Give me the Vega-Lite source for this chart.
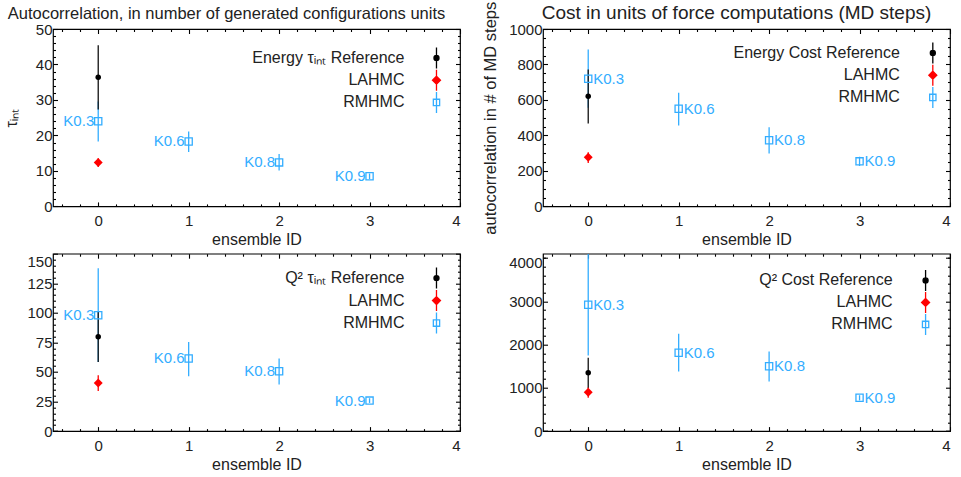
{
  "$schema": "https://vega.github.io/schema/vega-lite/v6.json",
  "padding": {"left": 2, "top": 0, "right": 0, "bottom": 0},
  "columns": 2,
  "spacing": {"row": 46.7, "column": 83},
  "bounds": "flush",
  "datasets": {
    "pts": [
      {"p": 1, "id": 0, "m": "RMHMC", "v": 24.0, "lo": 18.3, "hi": 29.6, "k": "K0.3"},
      {"p": 1, "id": 1, "m": "RMHMC", "v": 18.3, "lo": 15.3, "hi": 21.1, "k": "K0.6"},
      {"p": 1, "id": 2, "m": "RMHMC", "v": 12.4, "lo": 10.1, "hi": 14.8, "k": "K0.8"},
      {"p": 1, "id": 3, "m": "RMHMC", "v": 8.5, "lo": 7.7, "hi": 9.3, "k": "K0.9"},
      {"p": 1, "id": 0, "m": "LAHMC", "v": 12.4, "lo": 11.1, "hi": 13.6, "k": ""},
      {"p": 1, "id": 0, "m": "Reference", "v": 36.4, "lo": 27.3, "hi": 45.4, "k": ""},
      {"p": 2, "id": 0, "m": "RMHMC", "v": 720, "lo": 556, "hi": 885, "k": "K0.3"},
      {"p": 2, "id": 1, "m": "RMHMC", "v": 550, "lo": 456, "hi": 641, "k": "K0.6"},
      {"p": 2, "id": 2, "m": "RMHMC", "v": 373, "lo": 298, "hi": 446, "k": "K0.8"},
      {"p": 2, "id": 3, "m": "RMHMC", "v": 254, "lo": 228, "hi": 280, "k": "K0.9"},
      {"p": 2, "id": 0, "m": "LAHMC", "v": 277, "lo": 245, "hi": 305, "k": ""},
      {"p": 2, "id": 0, "m": "Reference", "v": 621, "lo": 467, "hi": 772, "k": ""},
      {"p": 3, "id": 0, "m": "RMHMC", "v": 98, "lo": 58.4, "hi": 137.6, "k": "K0.3"},
      {"p": 3, "id": 1, "m": "RMHMC", "v": 61.4, "lo": 46.4, "hi": 75.4, "k": "K0.6"},
      {"p": 3, "id": 2, "m": "RMHMC", "v": 50.6, "lo": 39.3, "hi": 61.4, "k": "K0.8"},
      {"p": 3, "id": 3, "m": "RMHMC", "v": 25.8, "lo": 23.8, "hi": 27.8, "k": "K0.9"},
      {"p": 3, "id": 0, "m": "LAHMC", "v": 40.7, "lo": 33.9, "hi": 47.2, "k": ""},
      {"p": 3, "id": 0, "m": "Reference", "v": 79.7, "lo": 58.5, "hi": 101, "k": ""},
      {"p": 4, "id": 0, "m": "RMHMC", "v": 2921, "lo": 1748, "hi": 4094, "k": "K0.3"},
      {"p": 4, "id": 1, "m": "RMHMC", "v": 1810, "lo": 1377, "hi": 2250, "k": "K0.6"},
      {"p": 4, "id": 2, "m": "RMHMC", "v": 1500, "lo": 1146, "hi": 1840, "k": "K0.8"},
      {"p": 4, "id": 3, "m": "RMHMC", "v": 769, "lo": 709, "hi": 829, "k": "K0.9"},
      {"p": 4, "id": 0, "m": "LAHMC", "v": 898, "lo": 769, "hi": 1014, "k": ""},
      {"p": 4, "id": 0, "m": "Reference", "v": 1347, "lo": 1000, "hi": 1694, "k": ""}
    ],
    "leg": [
      {"p": 1, "m": "Reference", "t": "Energy τᵢₙₜ Reference"},
      {"p": 1, "m": "LAHMC", "t": "LAHMC"},
      {"p": 1, "m": "RMHMC", "t": "RMHMC"},
      {"p": 2, "m": "Reference", "t": "Energy Cost Reference"},
      {"p": 2, "m": "LAHMC", "t": "LAHMC"},
      {"p": 2, "m": "RMHMC", "t": "RMHMC"},
      {"p": 3, "m": "Reference", "t": "Q² τᵢₙₜ Reference"},
      {"p": 3, "m": "LAHMC", "t": "LAHMC"},
      {"p": 3, "m": "RMHMC", "t": "RMHMC"},
      {"p": 4, "m": "Reference", "t": "Q² Cost Reference"},
      {"p": 4, "m": "LAHMC", "t": "LAHMC"},
      {"p": 4, "m": "RMHMC", "t": "RMHMC"}
    ]
  },
  "concat": [
    {
      "width": 407, "height": 177.4,
      "title": {"text": "Autocorrelation, in number of generated configurations units", "fontSize": 16.5, "fontWeight": "normal", "color": "#222", "anchor": "middle", "frame": "group", "dx": -30, "offset": -13, "baseline": "alphabetic"},
      "layer": [
        {
          "data": {"name": "pts"},
          "transform": [{"filter": "datum.p == 1"}],
          "layer": [
            {"mark": {"type": "rule", "strokeWidth": 1.3, "clip": true},
             "encoding": {
               "x": {"field": "id", "type": "quantitative", "scale": {"domain": [-0.5, 4], "nice": false, "zero": false}, "axis": {"orient": "bottom", "values": [0, 1, 2, 3, 4], "tickSize": -4.5, "labelPadding": 11.5, "title": "ensemble ID", "titlePadding": 3}},
               "y": {"field": "lo", "type": "quantitative", "scale": {"domain": [0, 50], "nice": false}, "axis": {"orient": "left", "values": [0, 10, 20, 30, 40, 50], "format": "d", "tickSize": -4.5, "labelPadding": 5.5, "title": "τᵢₙₜ", "titlePadding": 16}},
               "y2": {"field": "hi"},
               "color": {"field": "m", "type": "nominal", "scale": {"domain": ["Reference", "LAHMC", "RMHMC"], "range": ["#111111", "#ff0000", "#33adff"]}, "legend": null}
             }},
            {"transform": [{"filter": "datum.m == 'RMHMC'"}],
             "mark": {"type": "point", "shape": "square", "size": 52, "filled": false, "color": "#33adff", "strokeWidth": 1.3, "opacity": 1},
             "encoding": {
               "x": {"field": "id", "type": "quantitative", "scale": {"domain": [-0.5, 4], "nice": false, "zero": false}, "axis": {"orient": "top", "values": [0, 1, 2, 3, 4], "tickSize": -4.5, "labels": false, "title": null}},
               "y": {"field": "v", "type": "quantitative", "scale": {"domain": [0, 50], "nice": false}, "axis": {"orient": "right", "values": [0, 10, 20, 30, 40, 50], "tickSize": -4.5, "labels": false, "title": null}}
             }},
            {"transform": [{"filter": "datum.m == 'LAHMC'"}],
             "mark": {"type": "point", "shape": "diamond", "size": 80, "filled": true, "color": "#ff0000", "opacity": 1},
             "encoding": {
               "x": {"field": "id", "type": "quantitative", "scale": {"domain": [-0.5, 4], "nice": false, "zero": false}, "axis": {"orient": "bottom", "values": [-0.4, -0.2, 0.2, 0.4, 0.6, 0.8, 1.2, 1.4, 1.6, 1.8, 2.2, 2.4, 2.6, 2.8, 3.2, 3.4, 3.6, 3.8], "tickSize": -2.5, "labels": false, "title": null}},
               "y": {"field": "v", "type": "quantitative", "scale": {"domain": [0, 50], "nice": false}, "axis": {"orient": "left", "values": [2, 4, 6, 8, 12, 14, 16, 18, 22, 24, 26, 28, 32, 34, 36, 38, 42, 44, 46, 48], "tickSize": -2.5, "labels": false, "title": null}}
             }},
            {"transform": [{"filter": "datum.m == 'Reference'"}],
             "mark": {"type": "point", "shape": "circle", "size": 30, "filled": true, "color": "#000000", "opacity": 1},
             "encoding": {
               "x": {"field": "id", "type": "quantitative", "scale": {"domain": [-0.5, 4], "nice": false, "zero": false}, "axis": {"orient": "top", "values": [-0.4, -0.2, 0.2, 0.4, 0.6, 0.8, 1.2, 1.4, 1.6, 1.8, 2.2, 2.4, 2.6, 2.8, 3.2, 3.4, 3.6, 3.8], "tickSize": -2.5, "labels": false, "title": null}},
               "y": {"field": "v", "type": "quantitative", "scale": {"domain": [0, 50], "nice": false}, "axis": {"orient": "right", "values": [2, 4, 6, 8, 12, 14, 16, 18, 22, 24, 26, 28, 32, 34, 36, 38, 42, 44, 46, 48], "tickSize": -2.5, "labels": false, "title": null}}
             }},
            {"transform": [{"filter": "datum.m == 'RMHMC'"}],
             "mark": {"type": "text", "align": "right", "baseline": "middle", "dx": -4, "fontSize": 15, "color": "#33adff"},
             "encoding": {
               "x": {"field": "id", "type": "quantitative", "scale": {"domain": [-0.5, 4], "nice": false, "zero": false}, "axis": null},
               "y": {"field": "v", "type": "quantitative", "scale": {"domain": [0, 50], "nice": false}, "axis": null},
               "text": {"field": "k"}
             }}
          ],
          "resolve": {"axis": {"x": "independent", "y": "independent"}}
        },
        {
          "data": {"name": "leg"},
          "transform": [{"filter": "datum.p == 1"}],
          "encoding": {
            "x": {"datum": 3.74, "type": "quantitative", "scale": {"domain": [-0.5, 4], "nice": false, "zero": false}, "axis": null},
            "y": {"field": "m", "type": "nominal", "sort": ["Reference", "LAHMC", "RMHMC"], "scale": {"type": "point", "domain": ["Reference", "LAHMC", "RMHMC"], "range": [29, 73.4], "padding": 0}, "axis": null}
          },
          "layer": [
            {"mark": {"type": "point", "size": 441, "filled": true, "strokeWidth": 1.3, "opacity": 1},
             "encoding": {
               "shape": {"field": "m", "type": "nominal", "scale": {"domain": ["Reference", "LAHMC", "RMHMC"], "range": ["M-0.24,0A0.24,0.24 0 1,0 0.24,0A0.24,0.24 0 1,0 -0.24,0ZM0,-1L0,1", "M0,-0.38L0.38,0L0,0.38L-0.38,0ZM0,-1L0,1", "M-0.3,-0.3L0.3,-0.3L0.3,0.3L-0.3,0.3ZM0,-1L0,1"]}, "legend": null},
               "fill": {"field": "m", "type": "nominal", "scale": {"domain": ["Reference", "LAHMC", "RMHMC"], "range": ["#000000", "#ff0000", "transparent"]}, "legend": null},
               "stroke": {"field": "m", "type": "nominal", "scale": {"domain": ["Reference", "LAHMC", "RMHMC"], "range": ["#000000", "#ff0000", "#33adff"]}, "legend": null}
             }},
            {"mark": {"type": "text", "align": "right", "baseline": "middle", "dx": -32, "fontSize": 16, "color": "#222"},
             "encoding": {"text": {"field": "t"}}}
          ]
        }
      ],
      "resolve": {"scale": {"y": "independent"}, "axis": {"x": "independent", "y": "independent"}}
    },
    {
      "width": 407, "height": 177.4,
      "title": {"text": "Cost in units of force computations (MD steps)", "fontSize": 19, "fontWeight": "normal", "color": "#222", "anchor": "middle", "frame": "group", "dx": -10, "offset": -37, "baseline": "alphabetic"},
      "layer": [
        {
          "data": {"name": "pts"},
          "transform": [{"filter": "datum.p == 2"}],
          "layer": [
            {"mark": {"type": "rule", "strokeWidth": 1.3, "clip": true},
             "encoding": {
               "x": {"field": "id", "type": "quantitative", "scale": {"domain": [-0.5, 4], "nice": false, "zero": false}, "axis": {"orient": "bottom", "values": [0, 1, 2, 3, 4], "tickSize": -4.5, "labelPadding": 11.5, "title": "ensemble ID", "titlePadding": 3}},
               "y": {"field": "lo", "type": "quantitative", "scale": {"domain": [0, 1000], "nice": false}, "axis": {"orient": "left", "values": [0, 200, 400, 600, 800, 1000], "format": "d", "tickSize": -4.5, "labelPadding": 5.5, "title": "autocorrelation in # of MD steps", "titleFontSize": 16.5, "titlePadding": 10}},
               "y2": {"field": "hi"},
               "color": {"field": "m", "type": "nominal", "scale": {"domain": ["Reference", "LAHMC", "RMHMC"], "range": ["#111111", "#ff0000", "#33adff"]}, "legend": null}
             }},
            {"transform": [{"filter": "datum.m == 'RMHMC'"}],
             "mark": {"type": "point", "shape": "square", "size": 52, "filled": false, "color": "#33adff", "strokeWidth": 1.3, "opacity": 1},
             "encoding": {
               "x": {"field": "id", "type": "quantitative", "scale": {"domain": [-0.5, 4], "nice": false, "zero": false}, "axis": {"orient": "top", "values": [0, 1, 2, 3, 4], "tickSize": -4.5, "labels": false, "title": null}},
               "y": {"field": "v", "type": "quantitative", "scale": {"domain": [0, 1000], "nice": false}, "axis": {"orient": "right", "values": [0, 200, 400, 600, 800, 1000], "tickSize": -4.5, "labels": false, "title": null}}
             }},
            {"transform": [{"filter": "datum.m == 'LAHMC'"}],
             "mark": {"type": "point", "shape": "diamond", "size": 80, "filled": true, "color": "#ff0000", "opacity": 1},
             "encoding": {
               "x": {"field": "id", "type": "quantitative", "scale": {"domain": [-0.5, 4], "nice": false, "zero": false}, "axis": {"orient": "bottom", "values": [-0.4, -0.2, 0.2, 0.4, 0.6, 0.8, 1.2, 1.4, 1.6, 1.8, 2.2, 2.4, 2.6, 2.8, 3.2, 3.4, 3.6, 3.8], "tickSize": -2.5, "labels": false, "title": null}},
               "y": {"field": "v", "type": "quantitative", "scale": {"domain": [0, 1000], "nice": false}, "axis": {"orient": "left", "values": [50, 100, 150, 250, 300, 350, 450, 500, 550, 650, 700, 750, 850, 900, 950], "tickSize": -2.5, "labels": false, "title": null}}
             }},
            {"transform": [{"filter": "datum.m == 'Reference'"}],
             "mark": {"type": "point", "shape": "circle", "size": 30, "filled": true, "color": "#000000", "opacity": 1},
             "encoding": {
               "x": {"field": "id", "type": "quantitative", "scale": {"domain": [-0.5, 4], "nice": false, "zero": false}, "axis": {"orient": "top", "values": [-0.4, -0.2, 0.2, 0.4, 0.6, 0.8, 1.2, 1.4, 1.6, 1.8, 2.2, 2.4, 2.6, 2.8, 3.2, 3.4, 3.6, 3.8], "tickSize": -2.5, "labels": false, "title": null}},
               "y": {"field": "v", "type": "quantitative", "scale": {"domain": [0, 1000], "nice": false}, "axis": {"orient": "right", "values": [50, 100, 150, 250, 300, 350, 450, 500, 550, 650, 700, 750, 850, 900, 950], "tickSize": -2.5, "labels": false, "title": null}}
             }},
            {"transform": [{"filter": "datum.m == 'RMHMC'"}],
             "mark": {"type": "text", "align": "left", "baseline": "middle", "dx": 5, "fontSize": 15, "color": "#33adff"},
             "encoding": {
               "x": {"field": "id", "type": "quantitative", "scale": {"domain": [-0.5, 4], "nice": false, "zero": false}, "axis": null},
               "y": {"field": "v", "type": "quantitative", "scale": {"domain": [0, 1000], "nice": false}, "axis": null},
               "text": {"field": "k"}
             }}
          ],
          "resolve": {"axis": {"x": "independent", "y": "independent"}}
        },
        {
          "data": {"name": "leg"},
          "transform": [{"filter": "datum.p == 2"}],
          "encoding": {
            "x": {"datum": 3.81, "type": "quantitative", "scale": {"domain": [-0.5, 4], "nice": false, "zero": false}, "axis": null},
            "y": {"field": "m", "type": "nominal", "sort": ["Reference", "LAHMC", "RMHMC"], "scale": {"type": "point", "domain": ["Reference", "LAHMC", "RMHMC"], "range": [24, 68.4], "padding": 0}, "axis": null}
          },
          "layer": [
            {"mark": {"type": "point", "size": 441, "filled": true, "strokeWidth": 1.3, "opacity": 1},
             "encoding": {
               "shape": {"field": "m", "type": "nominal", "scale": {"domain": ["Reference", "LAHMC", "RMHMC"], "range": ["M-0.24,0A0.24,0.24 0 1,0 0.24,0A0.24,0.24 0 1,0 -0.24,0ZM0,-1L0,1", "M0,-0.38L0.38,0L0,0.38L-0.38,0ZM0,-1L0,1", "M-0.3,-0.3L0.3,-0.3L0.3,0.3L-0.3,0.3ZM0,-1L0,1"]}, "legend": null},
               "fill": {"field": "m", "type": "nominal", "scale": {"domain": ["Reference", "LAHMC", "RMHMC"], "range": ["#000000", "#ff0000", "transparent"]}, "legend": null},
               "stroke": {"field": "m", "type": "nominal", "scale": {"domain": ["Reference", "LAHMC", "RMHMC"], "range": ["#000000", "#ff0000", "#33adff"]}, "legend": null}
             }},
            {"mark": {"type": "text", "align": "right", "baseline": "middle", "dx": -33, "fontSize": 16, "color": "#222"},
             "encoding": {"text": {"field": "t"}}}
          ]
        }
      ],
      "resolve": {"scale": {"y": "independent"}, "axis": {"x": "independent", "y": "independent"}}
    },
    {
      "width": 407, "height": 177.4,
      "layer": [
        {
          "data": {"name": "pts"},
          "transform": [{"filter": "datum.p == 3"}],
          "layer": [
            {"mark": {"type": "rule", "strokeWidth": 1.3, "clip": true},
             "encoding": {
               "x": {"field": "id", "type": "quantitative", "scale": {"domain": [-0.5, 4], "nice": false, "zero": false}, "axis": {"orient": "bottom", "values": [0, 1, 2, 3, 4], "tickSize": -4.5, "labelPadding": 11.5, "title": "ensemble ID", "titlePadding": 3}},
               "y": {"field": "lo", "type": "quantitative", "scale": {"domain": [0, 150], "nice": false}, "axis": {"orient": "left", "values": [0, 25, 50, 75, 100, 125, 150], "format": "d", "tickSize": -4.5, "labelPadding": 5.5, "title": null, "labelOffset": {"condition": {"test": "datum.value == 150", "value": 8}, "value": 0}}},
               "y2": {"field": "hi"},
               "color": {"field": "m", "type": "nominal", "scale": {"domain": ["Reference", "LAHMC", "RMHMC"], "range": ["#111111", "#ff0000", "#33adff"]}, "legend": null}
             }},
            {"transform": [{"filter": "datum.m == 'RMHMC'"}],
             "mark": {"type": "point", "shape": "square", "size": 52, "filled": false, "color": "#33adff", "strokeWidth": 1.3, "opacity": 1},
             "encoding": {
               "x": {"field": "id", "type": "quantitative", "scale": {"domain": [-0.5, 4], "nice": false, "zero": false}, "axis": {"orient": "top", "values": [0, 1, 2, 3, 4], "tickSize": -4.5, "labels": false, "title": null}},
               "y": {"field": "v", "type": "quantitative", "scale": {"domain": [0, 150], "nice": false}, "axis": {"orient": "right", "values": [0, 25, 50, 75, 100, 125, 150], "tickSize": -4.5, "labels": false, "title": null}}
             }},
            {"transform": [{"filter": "datum.m == 'LAHMC'"}],
             "mark": {"type": "point", "shape": "diamond", "size": 80, "filled": true, "color": "#ff0000", "opacity": 1},
             "encoding": {
               "x": {"field": "id", "type": "quantitative", "scale": {"domain": [-0.5, 4], "nice": false, "zero": false}, "axis": {"orient": "bottom", "values": [-0.4, -0.2, 0.2, 0.4, 0.6, 0.8, 1.2, 1.4, 1.6, 1.8, 2.2, 2.4, 2.6, 2.8, 3.2, 3.4, 3.6, 3.8], "tickSize": -2.5, "labels": false, "title": null}},
               "y": {"field": "v", "type": "quantitative", "scale": {"domain": [0, 150], "nice": false}, "axis": {"orient": "left", "values": [5, 10, 15, 20, 30, 35, 40, 45, 55, 60, 65, 70, 80, 85, 90, 95, 105, 110, 115, 120, 130, 135, 140, 145], "tickSize": -2.5, "labels": false, "title": null}}
             }},
            {"transform": [{"filter": "datum.m == 'Reference'"}],
             "mark": {"type": "point", "shape": "circle", "size": 30, "filled": true, "color": "#000000", "opacity": 1},
             "encoding": {
               "x": {"field": "id", "type": "quantitative", "scale": {"domain": [-0.5, 4], "nice": false, "zero": false}, "axis": {"orient": "top", "values": [-0.4, -0.2, 0.2, 0.4, 0.6, 0.8, 1.2, 1.4, 1.6, 1.8, 2.2, 2.4, 2.6, 2.8, 3.2, 3.4, 3.6, 3.8], "tickSize": -2.5, "labels": false, "title": null}},
               "y": {"field": "v", "type": "quantitative", "scale": {"domain": [0, 150], "nice": false}, "axis": {"orient": "right", "values": [5, 10, 15, 20, 30, 35, 40, 45, 55, 60, 65, 70, 80, 85, 90, 95, 105, 110, 115, 120, 130, 135, 140, 145], "tickSize": -2.5, "labels": false, "title": null}}
             }},
            {"transform": [{"filter": "datum.m == 'RMHMC'"}],
             "mark": {"type": "text", "align": "right", "baseline": "middle", "dx": -4, "fontSize": 15, "color": "#33adff"},
             "encoding": {
               "x": {"field": "id", "type": "quantitative", "scale": {"domain": [-0.5, 4], "nice": false, "zero": false}, "axis": null},
               "y": {"field": "v", "type": "quantitative", "scale": {"domain": [0, 150], "nice": false}, "axis": null},
               "text": {"field": "k"}
             }}
          ],
          "resolve": {"axis": {"x": "independent", "y": "independent"}}
        },
        {
          "data": {"name": "leg"},
          "transform": [{"filter": "datum.p == 3"}],
          "encoding": {
            "x": {"datum": 3.74, "type": "quantitative", "scale": {"domain": [-0.5, 4], "nice": false, "zero": false}, "axis": null},
            "y": {"field": "m", "type": "nominal", "sort": ["Reference", "LAHMC", "RMHMC"], "scale": {"type": "point", "domain": ["Reference", "LAHMC", "RMHMC"], "range": [24.4, 69.4], "padding": 0}, "axis": null}
          },
          "layer": [
            {"mark": {"type": "point", "size": 441, "filled": true, "strokeWidth": 1.3, "opacity": 1},
             "encoding": {
               "shape": {"field": "m", "type": "nominal", "scale": {"domain": ["Reference", "LAHMC", "RMHMC"], "range": ["M-0.24,0A0.24,0.24 0 1,0 0.24,0A0.24,0.24 0 1,0 -0.24,0ZM0,-1L0,1", "M0,-0.38L0.38,0L0,0.38L-0.38,0ZM0,-1L0,1", "M-0.3,-0.3L0.3,-0.3L0.3,0.3L-0.3,0.3ZM0,-1L0,1"]}, "legend": null},
               "fill": {"field": "m", "type": "nominal", "scale": {"domain": ["Reference", "LAHMC", "RMHMC"], "range": ["#000000", "#ff0000", "transparent"]}, "legend": null},
               "stroke": {"field": "m", "type": "nominal", "scale": {"domain": ["Reference", "LAHMC", "RMHMC"], "range": ["#000000", "#ff0000", "#33adff"]}, "legend": null}
             }},
            {"mark": {"type": "text", "align": "right", "baseline": "middle", "dx": -32, "fontSize": 16, "color": "#222"},
             "encoding": {"text": {"field": "t"}}}
          ]
        }
      ],
      "resolve": {"scale": {"y": "independent"}, "axis": {"x": "independent", "y": "independent"}}
    },
    {
      "width": 407, "height": 177.4,
      "layer": [
        {
          "data": {"name": "pts"},
          "transform": [{"filter": "datum.p == 4"}],
          "layer": [
            {"mark": {"type": "rule", "strokeWidth": 1.3, "clip": true},
             "encoding": {
               "x": {"field": "id", "type": "quantitative", "scale": {"domain": [-0.5, 4], "nice": false, "zero": false}, "axis": {"orient": "bottom", "values": [0, 1, 2, 3, 4], "tickSize": -4.5, "labelPadding": 11.5, "title": "ensemble ID", "titlePadding": 3}},
               "y": {"field": "lo", "type": "quantitative", "scale": {"domain": [0, 4100], "nice": false}, "axis": {"orient": "left", "values": [0, 1000, 2000, 3000, 4000], "format": "d", "tickSize": -4.5, "labelPadding": 5.5, "title": null, "labelOffset": {"condition": {"test": "datum.value == 4000", "value": 4}, "value": 0}}},
               "y2": {"field": "hi"},
               "color": {"field": "m", "type": "nominal", "scale": {"domain": ["Reference", "LAHMC", "RMHMC"], "range": ["#111111", "#ff0000", "#33adff"]}, "legend": null}
             }},
            {"transform": [{"filter": "datum.m == 'RMHMC'"}],
             "mark": {"type": "point", "shape": "square", "size": 52, "filled": false, "color": "#33adff", "strokeWidth": 1.3, "opacity": 1},
             "encoding": {
               "x": {"field": "id", "type": "quantitative", "scale": {"domain": [-0.5, 4], "nice": false, "zero": false}, "axis": {"orient": "top", "values": [0, 1, 2, 3, 4], "tickSize": -4.5, "labels": false, "title": null}},
               "y": {"field": "v", "type": "quantitative", "scale": {"domain": [0, 4100], "nice": false}, "axis": {"orient": "right", "values": [0, 1000, 2000, 3000, 4000], "tickSize": -4.5, "labels": false, "title": null}}
             }},
            {"transform": [{"filter": "datum.m == 'LAHMC'"}],
             "mark": {"type": "point", "shape": "diamond", "size": 80, "filled": true, "color": "#ff0000", "opacity": 1},
             "encoding": {
               "x": {"field": "id", "type": "quantitative", "scale": {"domain": [-0.5, 4], "nice": false, "zero": false}, "axis": {"orient": "bottom", "values": [-0.4, -0.2, 0.2, 0.4, 0.6, 0.8, 1.2, 1.4, 1.6, 1.8, 2.2, 2.4, 2.6, 2.8, 3.2, 3.4, 3.6, 3.8], "tickSize": -2.5, "labels": false, "title": null}},
               "y": {"field": "v", "type": "quantitative", "scale": {"domain": [0, 4100], "nice": false}, "axis": {"orient": "left", "values": [200, 400, 600, 800, 1200, 1400, 1600, 1800, 2200, 2400, 2600, 2800, 3200, 3400, 3600, 3800, 4000], "tickSize": -2.5, "labels": false, "title": null}}
             }},
            {"transform": [{"filter": "datum.m == 'Reference'"}],
             "mark": {"type": "point", "shape": "circle", "size": 30, "filled": true, "color": "#000000", "opacity": 1},
             "encoding": {
               "x": {"field": "id", "type": "quantitative", "scale": {"domain": [-0.5, 4], "nice": false, "zero": false}, "axis": {"orient": "top", "values": [-0.4, -0.2, 0.2, 0.4, 0.6, 0.8, 1.2, 1.4, 1.6, 1.8, 2.2, 2.4, 2.6, 2.8, 3.2, 3.4, 3.6, 3.8], "tickSize": -2.5, "labels": false, "title": null}},
               "y": {"field": "v", "type": "quantitative", "scale": {"domain": [0, 4100], "nice": false}, "axis": {"orient": "right", "values": [200, 400, 600, 800, 1200, 1400, 1600, 1800, 2200, 2400, 2600, 2800, 3200, 3400, 3600, 3800, 4000], "tickSize": -2.5, "labels": false, "title": null}}
             }},
            {"transform": [{"filter": "datum.m == 'RMHMC'"}],
             "mark": {"type": "text", "align": "left", "baseline": "middle", "dx": 5, "fontSize": 15, "color": "#33adff"},
             "encoding": {
               "x": {"field": "id", "type": "quantitative", "scale": {"domain": [-0.5, 4], "nice": false, "zero": false}, "axis": null},
               "y": {"field": "v", "type": "quantitative", "scale": {"domain": [0, 4100], "nice": false}, "axis": null},
               "text": {"field": "k"}
             }}
          ],
          "resolve": {"axis": {"x": "independent", "y": "independent"}}
        },
        {
          "data": {"name": "leg"},
          "transform": [{"filter": "datum.p == 4"}],
          "encoding": {
            "x": {"datum": 3.73, "type": "quantitative", "scale": {"domain": [-0.5, 4], "nice": false, "zero": false}, "axis": null},
            "y": {"field": "m", "type": "nominal", "sort": ["Reference", "LAHMC", "RMHMC"], "scale": {"type": "point", "domain": ["Reference", "LAHMC", "RMHMC"], "range": [26.7, 70.7], "padding": 0}, "axis": null}
          },
          "layer": [
            {"mark": {"type": "point", "size": 441, "filled": true, "strokeWidth": 1.3, "opacity": 1},
             "encoding": {
               "shape": {"field": "m", "type": "nominal", "scale": {"domain": ["Reference", "LAHMC", "RMHMC"], "range": ["M-0.24,0A0.24,0.24 0 1,0 0.24,0A0.24,0.24 0 1,0 -0.24,0ZM0,-1L0,1", "M0,-0.38L0.38,0L0,0.38L-0.38,0ZM0,-1L0,1", "M-0.3,-0.3L0.3,-0.3L0.3,0.3L-0.3,0.3ZM0,-1L0,1"]}, "legend": null},
               "fill": {"field": "m", "type": "nominal", "scale": {"domain": ["Reference", "LAHMC", "RMHMC"], "range": ["#000000", "#ff0000", "transparent"]}, "legend": null},
               "stroke": {"field": "m", "type": "nominal", "scale": {"domain": ["Reference", "LAHMC", "RMHMC"], "range": ["#000000", "#ff0000", "#33adff"]}, "legend": null}
             }},
            {"mark": {"type": "text", "align": "right", "baseline": "middle", "dx": -33, "fontSize": 16, "color": "#222"},
             "encoding": {"text": {"field": "t"}}}
          ]
        }
      ],
      "resolve": {"scale": {"y": "independent"}, "axis": {"x": "independent", "y": "independent"}}
    }
  ],
  "config": {
    "font": "Liberation Sans",
    "background": "white",
    "view": {"stroke": "#000000", "strokeWidth": 1.2},
    "axis": {
      "grid": false,
      "domain": false,
      "tickColor": "#000000",
      "tickWidth": 1.1,
      "labelFont": "Liberation Sans",
      "labelFontSize": 15,
      "labelColor": "#222",
      "titleFont": "Liberation Sans",
      "titleFontSize": 16,
      "titleFontWeight": "normal",
      "titleColor": "#222"
    }
  }
}
